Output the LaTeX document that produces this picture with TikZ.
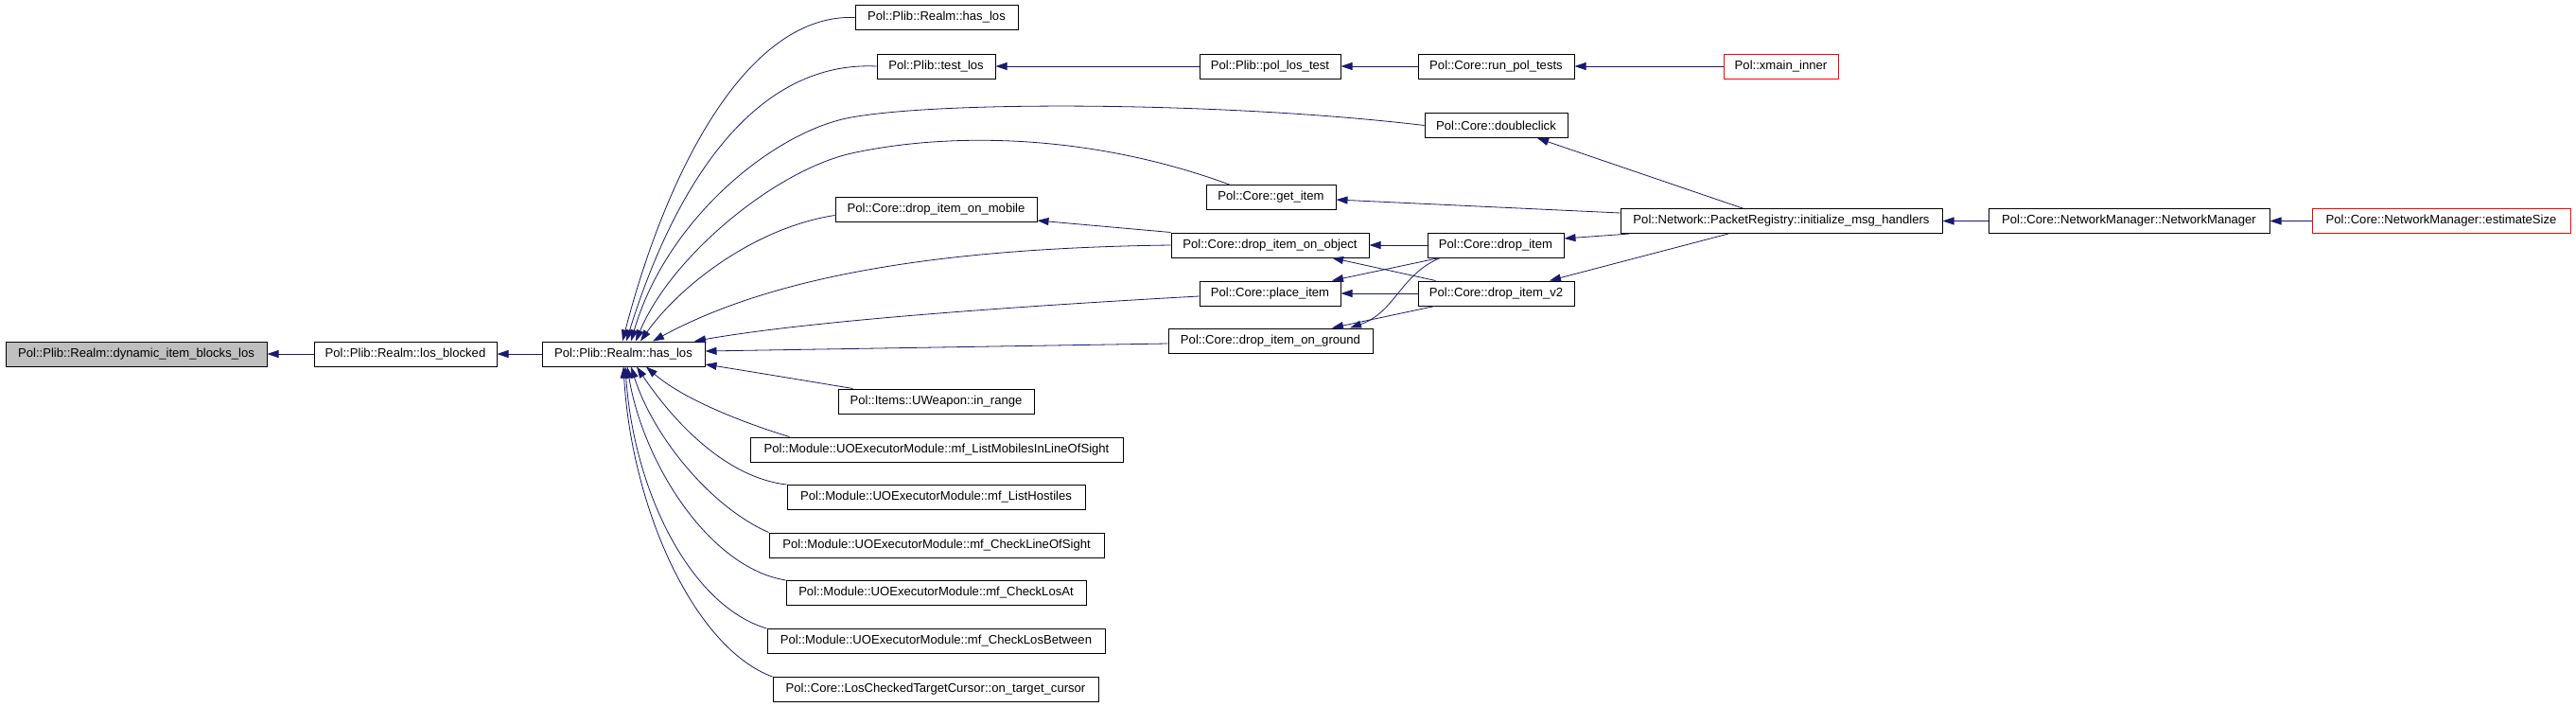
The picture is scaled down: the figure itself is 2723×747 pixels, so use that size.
\documentclass[tikz,border=0pt]{standalone}
\usepackage{fontspec}
\setmainfont{Liberation Sans}
\usetikzlibrary{arrows.meta}
\definecolor{edgeblue}{RGB}{25,25,112}
\definecolor{grayfill}{RGB}{191,191,191}
\begin{document}
\begin{tikzpicture}[x=1pt,y=-1pt,
  fn/.style={draw=black, line width=1pt, fill=white, rectangle, inner sep=0pt,
             minimum height=26pt, font=\fontsize{13.1}{15}\selectfont},
  redfn/.style={fn, draw=red},
  edge/.style={draw=edgeblue, line width=0.8pt, -{Triangle[length=12pt,width=8pt]}}]
\fill[white] (0,0) rectangle (2723,747);
\path[use as bounding box] (0,0) rectangle (2723,747);

% column 1-3
\node[fn, fill=grayfill, minimum width=276pt] (dyn) at (144,374) {Pol::Plib::Realm::dynamic\_item\_blocks\_los};
\node[fn, minimum width=193pt] (losb) at (428.5,374) {Pol::Plib::Realm::los\_blocked};
\node[fn, minimum width=172pt] (hl) at (659,374) {Pol::Plib::Realm::has\_los};

% column 4
\node[fn, minimum width=172pt] (toplos) at (990,18.5) {Pol::Plib::Realm::has\_los};
\node[fn, minimum width=125pt] (tl) at (989.5,70) {Pol::Plib::test\_los};
\node[fn, minimum width=213pt] (dim) at (989.5,221.5) {Pol::Core::drop\_item\_on\_mobile};
\node[fn, minimum width=207pt] (ir) at (989.5,424) {Pol::Items::UWeapon::in\_range};
\node[fn, minimum width=394pt] (lm) at (990,475) {Pol::Module::UOExecutorModule::mf\_ListMobilesInLineOfSight};
\node[fn, minimum width=315pt] (lh) at (989.5,525.5) {Pol::Module::UOExecutorModule::mf\_ListHostiles};
\node[fn, minimum width=354pt] (lcs) at (990,576) {Pol::Module::UOExecutorModule::mf\_CheckLineOfSight};
\node[fn, minimum width=317pt] (cla) at (989.5,626.5) {Pol::Module::UOExecutorModule::mf\_CheckLosAt};
\node[fn, minimum width=357pt] (clb) at (989.5,677.5) {Pol::Module::UOExecutorModule::mf\_CheckLosBetween};
\node[fn, minimum width=344pt] (otc) at (989,728.5) {Pol::Core::LosCheckedTargetCursor::on\_target\_cursor};

% column 5
\node[fn, minimum width=149pt] (plt) at (1342.5,70) {Pol::Plib::pol\_los\_test};
\node[fn, minimum width=137pt] (gi) at (1343.5,208.5) {Pol::Core::get\_item};
\node[fn, minimum width=209pt] (dio) at (1342.5,259) {Pol::Core::drop\_item\_on\_object};
\node[fn, minimum width=149pt] (pi) at (1342.5,310) {Pol::Core::place\_item};
\node[fn, minimum width=216pt] (dig) at (1343,360) {Pol::Core::drop\_item\_on\_ground};

% column 6
\node[fn, minimum width=165pt] (rpt) at (1581.5,70) {Pol::Core::run\_pol\_tests};
\node[fn, minimum width=151pt] (dc) at (1581.5,132.5) {Pol::Core::doubleclick};
\node[fn, minimum width=144pt] (di) at (1581,259) {Pol::Core::drop\_item};
\node[fn, minimum width=165pt] (dv2) at (1581.5,310) {Pol::Core::drop\_item\_v2};

% column 7-9
\node[redfn, minimum width=121pt] (xmi) at (1882.5,70) {Pol::xmain\_inner};
\node[fn, minimum width=340pt] (init) at (1883,233.5) {Pol::Network::PacketRegistry::initialize\_msg\_handlers};
\node[fn, minimum width=297pt] (nm) at (2250.5,233.5) {Pol::Core::NetworkManager::NetworkManager};
\node[redfn, minimum width=273pt] (es) at (2580.5,233.5) {Pol::Core::NetworkManager::estimateSize};

% main chain
\draw[edge] (losb.west) -- (dyn.east);
\draw[edge] (hl.west) -- (losb.east);

% callers of has_los (top)
\draw[edge] (toplos.west) .. controls (790,14) and (705,180) .. ([xshift=-1pt]hl.north);
\draw[edge] (tl.west) .. controls (800,64) and (715,190) .. ([xshift=3pt]hl.north);
\draw[edge] (dc.west) .. controls (1300,108) and (1000,106) .. (900,124)
  .. controls (820,138) and (705,230) .. ([xshift=8pt]hl.north);
\draw[edge] ([xshift=25pt]gi.north west) .. controls (1150,140) and (1000,140) .. (900,162)
  .. controls (820,180) and (710,270) .. ([xshift=13pt]hl.north);
\draw[edge] ([yshift=-6pt]dim.west) .. controls (800,240) and (720,300) .. ([xshift=18pt]hl.north);
\draw[edge] (dio.west) .. controls (1000,262) and (820,290) .. ([xshift=31pt]hl.north);
\draw[edge] ([yshift=-3pt]pi.west) .. controls (1050,325) and (850,340) .. ([xshift=75pt]hl.north);
\draw[edge] ([yshift=-3pt]dig.west) -- ([yshift=3pt]hl.east);
\draw[edge] ([xshift=16pt]ir.north west) .. controls (850,402) and (790,392) .. ([yshift=-11pt]hl.east);

% callers of has_los (bottom)
\draw[edge] ([xshift=42pt]lm.north west) .. controls (780,445) and (720,420) .. ([xshift=24pt]hl.south);
\draw[edge] (lh.north west) .. controls (770,505) and (715,450) .. ([xshift=14pt]hl.south);
\draw[edge] (lcs.north west) .. controls (750,535) and (690,460) .. ([xshift=8pt]hl.south);
\draw[edge] (cla.north west) .. controls (750,600) and (680,490) .. ([xshift=4pt]hl.south);
\draw[edge] (clb.north west) .. controls (730,640) and (670,520) .. ([xshift=2pt]hl.south);
\draw[edge] (otc.north west) .. controls (735,685) and (668,540) .. (hl.south);

% top chain
\draw[edge] (plt.west) -- (tl.east);
\draw[edge] (rpt.west) -- (plt.east);
\draw[edge] (xmi.west) -- (rpt.east);

% packet registry
\draw[edge] ([xshift=-41pt]init.north) -- ([xshift=43.5pt]dc.south);
\draw[edge] ([yshift=8.5pt]init.west) -- ([yshift=-2.5pt]gi.east);
\draw[edge] ([xshift=10pt]init.south west) -- ([yshift=7pt]di.east);
\draw[edge] ([xshift=-56pt]init.south) -- ([xshift=56.5pt]dv2.north);

% drop item cluster
\draw[edge] (dio.north west) -- ([yshift=-11.5pt]dim.east);
\draw[edge] (di.west) -- (dio.east);
\draw[edge] ([xshift=13pt]di.south west) -- ([xshift=65.5pt]pi.north);
\draw[edge] ([xshift=14pt]di.south west) .. controls (1480,290) and (1475,330) .. ([xshift=84pt]dig.north);
\draw[edge] ([xshift=19pt]dv2.north west) -- ([xshift=65.5pt]dio.south);
\draw[edge] (dv2.west) -- (pi.east);
\draw[edge] ([xshift=18pt]dv2.south west) -- ([xshift=65pt]dig.north);

% network manager
\draw[edge] (nm.west) -- (init.east);
\draw[edge] (es.west) -- (nm.east);
\end{tikzpicture}
\end{document}
